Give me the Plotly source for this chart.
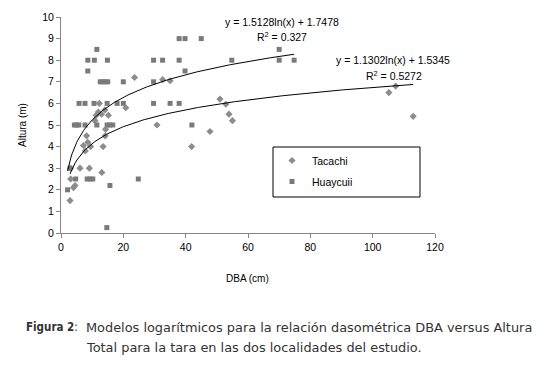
import numpy as np
import plotly.graph_objects as go

# ---- data ----
tacachi_x = [2.9, 3.1, 4.0, 4.5, 6.1, 9.1, 13.1, 3.0,
             8.2, 8.6, 7.2, 9.5, 7.8, 13.5, 14.2, 14.3,
             10.9, 11.3, 12.3, 13.0, 14.1, 15.2, 12.0,
             20.8, 23.6, 32.6, 35.0, 30.8, 41.9, 47.8,
             51.0, 52.9, 53.9, 55.0, 105.2, 107.4, 113.0]
tacachi_y = [1.5, 2.5, 2.1, 2.2, 3.0, 3.0, 2.8, 3.0,
             4.5, 4.2, 4.05, 4.0, 3.8, 4.0, 4.5, 4.8,
             5.2, 5.45, 6.0, 5.5, 5.7, 5.45, 5.6,
             5.8, 7.2, 7.1, 7.05, 5.0, 4.0, 4.7,
             6.2, 5.96, 5.5, 5.2, 6.5, 6.8, 5.4]

huaycuii_x = [11.5,
              8.6, 10.7, 14.9, 29.7, 32.6, 37.9, 54.8, 74.8, 70.0,
              70.0,
              8.6, 39.8,
              37.9, 39.8, 45.0,
              12.6, 13.4, 14.2, 15.0, 20.0, 29.7,
              5.8, 7.7, 10.6, 14.8, 18.0, 20.0, 29.7, 35.0, 37.9,
              4.3, 5.0, 5.7, 7.7, 11.5, 14.8, 15.6, 16.6, 42.0,
              2.9,
              4.7, 8.4, 9.3, 10.2, 24.8,
              15.7, 2.1, 14.7]
huaycuii_y = [8.5,
              8, 8, 8, 8, 8, 8, 8, 8, 8,
              8.5,
              7.5, 7.5,
              9, 9, 9,
              7, 7, 7, 7, 7, 7,
              6, 6, 6, 6, 6, 6, 6, 6, 6,
              5, 5, 5, 5, 5, 5, 5, 5, 5,
              3.0,
              2.5, 2.5, 2.5, 2.5, 2.5,
              2.2, 2.0, 0.25]

# logarithmic trendline coefficients printed on the chart: y = a*ln(x) + b
tacachi_fit = (1.1302, 1.5345)
huaycuii_fit = (1.5128, 1.7478)

x_ticks = [0, 20, 40, 60, 80, 100, 120]
y_ticks = [0, 1, 2, 3, 4, 5, 6, 7, 8, 9, 10]

CHART_FONT = "Liberation Sans"
AXIS_COL = "#868686"

fig = go.Figure()

fig.add_trace(go.Scatter(x=tacachi_x, y=tacachi_y, mode="markers", name="Tacachi",
                         legendgroup="a",
                         marker=dict(symbol="diamond", size=5.5, color="#8c8c8c")))
fig.add_trace(go.Scatter(x=huaycuii_x, y=huaycuii_y, mode="markers", name="Huaycuii",
                         legendgroup="b",
                         marker=dict(symbol="square", size=5, color="#7a7a7a")))

def trend(xs, coef):
    xx = np.linspace(min(xs), max(xs), 200)
    return xx, coef[0] * np.log(xx) + coef[1]

tx, ty = trend(tacachi_x, tacachi_fit)
hx, hy = trend(huaycuii_x, huaycuii_fit)
fig.add_trace(go.Scatter(x=tx, y=ty, mode="lines", showlegend=False,
                         line=dict(color="black", width=1)))
fig.add_trace(go.Scatter(x=hx, y=hy, mode="lines", showlegend=False,
                         line=dict(color="black", width=1)))

L, R, T, B = 61, 105, 17, 134
W, H = 540, 367
PW, PH = W - L - R, H - T - B

def px(xp):
    return (xp - L) / PW

def py(yp):
    return (H - B - yp) / PH

annots = [
    dict(text="y = 1.5128ln(x) + 1.7478", x=px(282), y=py(22.5)),
    dict(text="R<sup>2</sup> = 0.327", x=px(282), y=py(36.5)),
    dict(text="y = 1.1302ln(x) + 1.5345", x=px(393), y=py(60.5)),
    dict(text="R<sup>2</sup> = 0.5272", x=px(394), y=py(75)),
]
ann_list = []
for a in annots:
    ann_list.append(dict(text=a["text"], x=a["x"], y=a["y"], xref="paper", yref="paper",
                         xanchor="center", yanchor="middle", showarrow=False,
                         font=dict(family=CHART_FONT, size=10.5, color="black")))

ann_list.append(dict(text="DBA (cm)", x=px(247), y=py(278), xref="paper", yref="paper",
                     xanchor="center", yanchor="middle", showarrow=False,
                     font=dict(family=CHART_FONT, size=10, color="black")))
ann_list.append(dict(text="Altura (m)", x=px(22), y=py(125), xref="paper", yref="paper",
                     xanchor="center", yanchor="middle", showarrow=False, textangle=-90,
                     font=dict(family=CHART_FONT, size=10, color="black")))

CAP_FONT = "DejaVu Sans"
CAP_SIZE = 12.9
ann_list.append(dict(text="<b>Figura 2</b>:", x=px(80), y=py(327), xref="paper", yref="paper",
                     xanchor="right", yanchor="middle", showarrow=False,
                     font=dict(family="DejaVu Sans Condensed, DejaVu Sans", size=11.5,
                               color="#333333")))
ann_list.append(dict(text="Modelos logarítmicos para la relación dasométrica DBA versus Altura",
                     x=px(84), y=py(327), xref="paper", yref="paper",
                     xanchor="left", yanchor="middle", showarrow=False,
                     font=dict(family=CAP_FONT, size=CAP_SIZE, color="#333333")))
ann_list.append(dict(text="Total para la tara en las dos localidades del estudio.",
                     x=px(84), y=py(347), xref="paper", yref="paper",
                     xanchor="left", yanchor="middle", showarrow=False,
                     font=dict(family=CAP_FONT, size=CAP_SIZE, color="#333333")))

fig.update_layout(
    width=W, height=H, autosize=False,
    margin=dict(l=L, r=R, t=T, b=B, pad=0),
    paper_bgcolor="white", plot_bgcolor="white",
    font=dict(family=CHART_FONT, size=10, color="black"),
    xaxis=dict(range=[0, 120], tickvals=x_ticks, showgrid=False, zeroline=False,
               showline=True, linecolor=AXIS_COL, linewidth=1, automargin=False,
               ticks="outside", ticklen=4, tickcolor=AXIS_COL,
               tickfont=dict(family=CHART_FONT, size=10.5, color="black")),
    yaxis=dict(range=[0, 10], tickvals=y_ticks, showgrid=False, zeroline=False,
               showline=True, linecolor=AXIS_COL, linewidth=1, automargin=False,
               ticks="outside", ticklen=4, tickcolor=AXIS_COL,
               tickfont=dict(family=CHART_FONT, size=10.5, color="black")),
    showlegend=True,
    legend=dict(x=px(272), y=py(146), xanchor="left", yanchor="top",
                bgcolor="rgba(0,0,0,0)", borderwidth=0, tracegroupgap=2,
                font=dict(family=CHART_FONT, size=10.5, color="black")),
    shapes=[dict(type="rect", xref="paper", yref="paper",
                 x0=px(273), x1=px(420), y0=py(197), y1=py(147),
                 line=dict(color="black", width=1), fillcolor="rgba(0,0,0,0)")],
    annotations=ann_list,
)

fig.write_html("out.html", config={"responsive": False, "displayModeBar": False},
               post_script="document.body.style.margin='0';document.body.style.padding='0';"
                           "document.body.style.overflow='hidden';")
